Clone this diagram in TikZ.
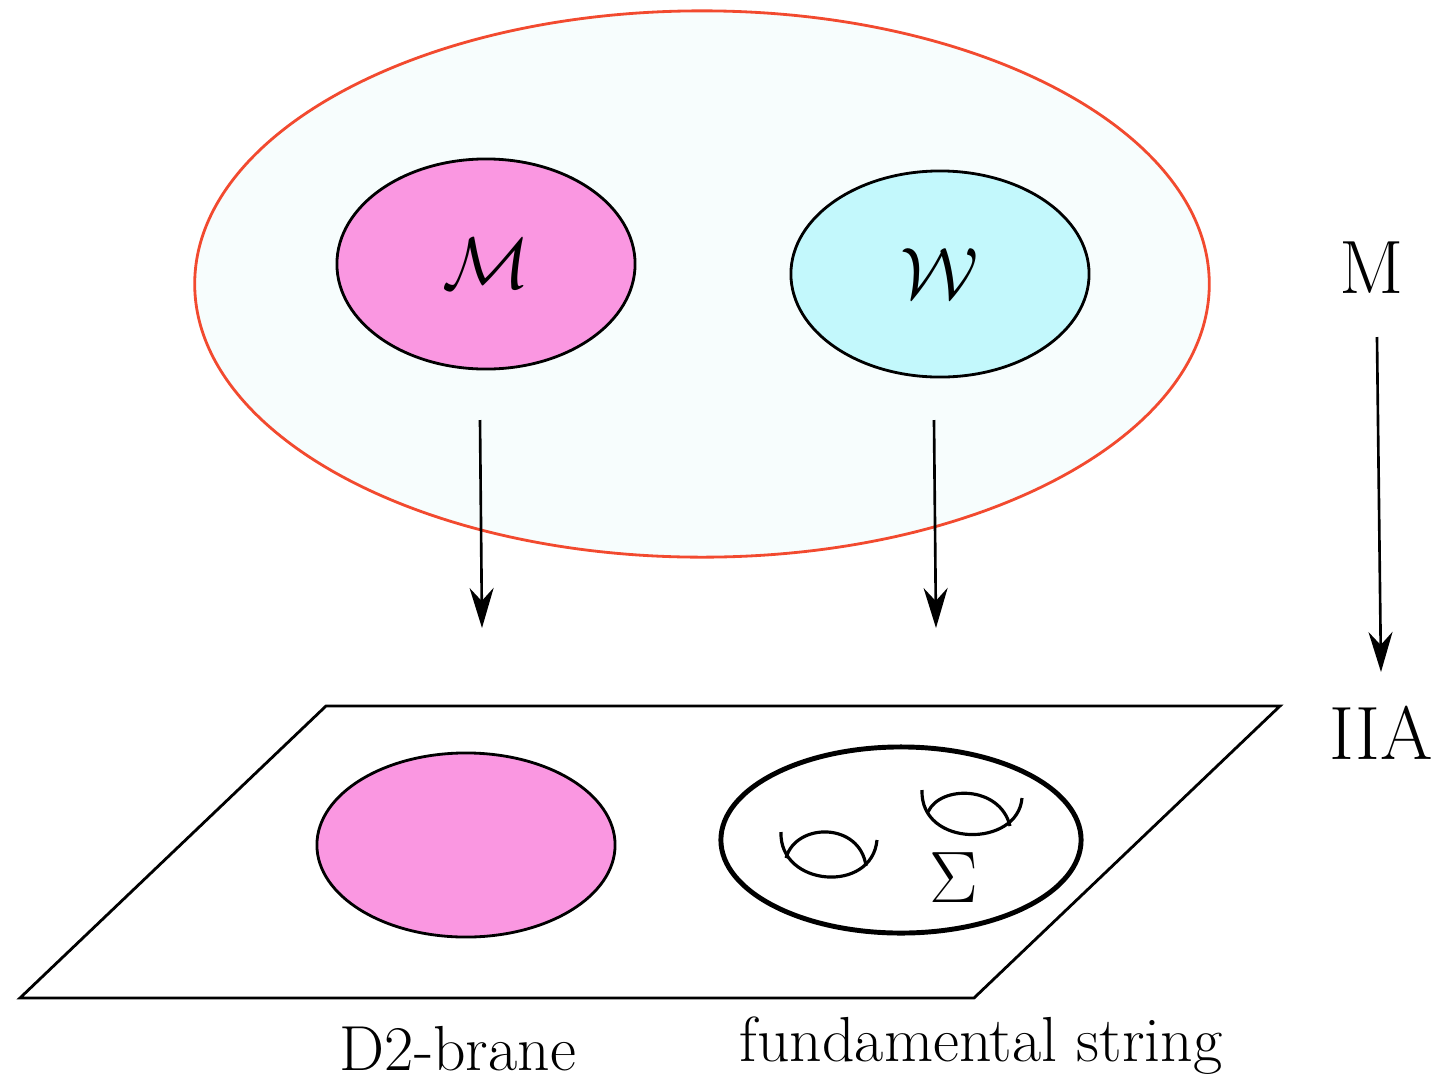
\documentclass[tikz,border=0pt]{standalone}
\usepackage{amsmath}
\usetikzlibrary{shapes.geometric, arrows.meta, positioning}
\definecolor{mtheory}{HTML}{F7FDFD}
\definecolor{mborder}{HTML}{F24A2F}
\definecolor{brpink}{HTML}{FA97E1}
\definecolor{strcyan}{HTML}{C3F8FC}

\begin{document}
\begin{tikzpicture}[
    x=0.01cm, y=-0.01cm,
    every node/.style={font=\fontsize{18.1}{22}\selectfont},
    big/.style={font=\fontsize{21.5}{26}\selectfont},
    caption/.style={inner sep=1pt},
    blob/.style={ellipse, draw=black, thick, inner sep=0pt},
    lift/.style={-{Stealth[length=4mm, width=2.4mm, inset=1.3mm]}, line width=0.75pt},
    handle/.style={line width=0.9pt}
]
\useasboundingbox (0,0) rectangle (1435,1078);

% M-theory side
\node[ellipse, draw=mborder, fill=mtheory, thick, minimum width=10.14cm, minimum height=5.46cm] (bulk) at (702,284) {};
\node[blob, fill=brpink, minimum width=2.98cm, minimum height=2.1cm, font=\fontsize{20.5}{24}\selectfont] (m2) at (486,264) {$\mathcal{M}$};
\node[blob, fill=strcyan, minimum width=2.98cm, minimum height=2.06cm, font=\fontsize{20.5}{24}\selectfont] (m5) at (940,274) {$\mathcal{W}$};

% IIA side
\draw[thick] (326,706) -- (1280,706) -- (974,998) -- (20,998) -- cycle;
\node[blob, fill=brpink, minimum width=2.98cm, minimum height=1.84cm] (d2) at (466,845) {};
\node[blob, line width=1.4pt, minimum width=3.6cm, minimum height=1.86cm] (fs) at (901,840) {};
\node[big] (sigma) at (954,878) {$\Sigma$};

% handles on the worldsheet
\draw[handle] (781,832) .. controls (779,887) and (872,894) .. (877,840);
\draw[handle] (786,858) .. controls (796,822) and (860,822) .. (866,866);
\draw[handle] (922,790) .. controls (920,848) and (1018,848) .. (1022,798);
\draw[handle] (928,812) .. controls (940,785) and (1000,785) .. (1010,826);

% labels
\node[big] (mlab) at (1372,268) {M};
\node[big] (iia) at (1381,733) {IIA};
\node[caption] (d2lab) at (458,1049) {D2-brane};
\node[caption] (fslab) at (981,1046) {fundamental string};

% reductions
\coordinate (a1) at (480,420);
\coordinate (b1) at (482,628);
\coordinate (a2) at (934,420);
\coordinate (b2) at (936,628);
\coordinate (a3) at (1377,337);
\coordinate (b3) at (1381,672);
\draw[lift] (a1) -- (b1);
\draw[lift] (a2) -- (b2);
\draw[lift] (a3) -- (b3);

\end{tikzpicture}
\end{document}
